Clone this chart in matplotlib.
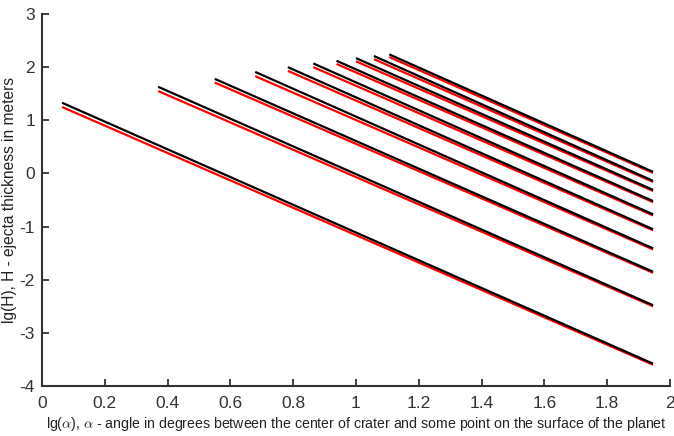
import matplotlib
matplotlib.use("Agg")
import matplotlib.pyplot as plt

# Data (start/end of each straight segment)
x_start = [0.064, 0.37, 0.55, 0.679, 0.783, 0.864, 0.938, 1.0, 1.057, 1.106]
x_end = [1.946] * 10
black_start = [1.33, 1.63, 1.78, 1.91, 2.00, 2.07, 2.12, 2.17, 2.21, 2.24]
black_end = [-3.58, -2.48, -1.85, -1.41, -1.05, -0.77, -0.52, -0.31, -0.14, 0.03]
red_start = [1.25, 1.55, 1.71, 1.83, 1.93, 2.00, 2.06, 2.11, 2.15, 2.19]
red_end = [-3.60, -2.50, -1.87, -1.43, -1.07, -0.79, -0.54, -0.33, -0.16, 0.01]

xticks = [0, 0.2, 0.4, 0.6, 0.8, 1, 1.2, 1.4, 1.6, 1.8, 2]
xticklabels = ["0", "0.2", "0.4", "0.6", "0.8", "1", "1.2", "1.4", "1.6", "1.8", "2"]
yticks = [-4, -3, -2, -1, 0, 1, 2, 3]
yticklabels = ["-4", "-3", "-2", "-1", "0", "1", "2", "3"]

plt.rcParams["font.family"] = ["Liberation Sans", "DejaVu Sans"]
plt.rcParams["mathtext.fontset"] = "cm"

W, H = 674, 436
fig = plt.figure(figsize=(W / 100, H / 100), dpi=100)
ax = fig.add_axes([42 / W, (H - 386) / H, (670 - 42) / W, (386 - 14) / H])

for i in range(len(x_start)):
    ax.plot([x_start[i], x_end[i]], [red_start[i], red_end[i]], color="#ff0000", lw=1.6, solid_capstyle="butt")
for i in range(len(x_start)):
    ax.plot([x_start[i], x_end[i]], [black_start[i], black_end[i]], color="black", lw=1.6, solid_capstyle="butt")

ax.set_xlim(0, 2)
ax.set_ylim(-4, 3)
ax.set_xticks(xticks)
ax.set_xticklabels(xticklabels)
ax.set_yticks(yticks)
ax.set_yticklabels(yticklabels)
for s in ["top", "right"]:
    ax.spines[s].set_visible(False)
for s in ["left", "bottom"]:
    ax.spines[s].set_color("#333333")
    ax.spines[s].set_linewidth(1.5)
ax.tick_params(direction="in", length=5, width=1.3, color="#333333",
               labelsize=12.5, labelcolor="#333333")
ax.tick_params(axis="x", pad=7)
ax.tick_params(axis="y", pad=5)

ax.set_xlabel(r"lg($\alpha$), $\alpha$ - angle in degrees between the center of crater and some point on the surface of the planet",
              fontsize=10.2, color="#222222", labelpad=3)
ax.set_ylabel("lg(H), H - ejecta thickness in meters", fontsize=11.2, color="#222222", labelpad=2)

fig.savefig("out.png", dpi=100)
